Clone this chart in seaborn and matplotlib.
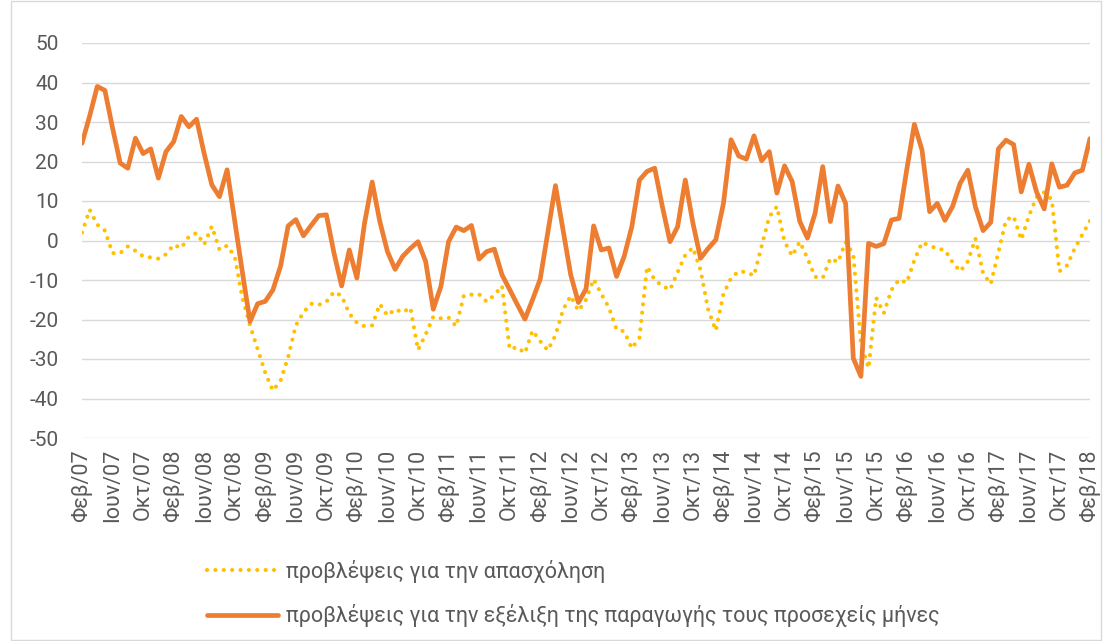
# Business survey expectations: employment vs production, Feb 2007 - Feb 2018

import pandas as pd
import seaborn as sns
import matplotlib.pyplot as plt

# monthly balances, Φεβ/07 ... Φεβ/18 (133 months)
employment = [2.0, 7.8, 4.0, 2.5, -3.2, -3.2, -1.5, -2.6, -4.0, -4.3,
              -4.6, -3.5, -1.1, -1.9, 1.0, 1.9, -1.0, 3.6, -2.3, -1.3,
              -4.0, -14.5, -21.5, -27.5, -33.5, -38.0, -35.5, -29.5, -21.5, -18.2,
              -16.0, -16.3, -15.5, -13.0, -14.0, -18.5, -20.8, -21.7, -21.5, -16.1,
              -19.0, -17.4, -18.2, -17.0, -27.7, -23.8, -19.3, -19.7, -19.5, -21.7,
              -14.0, -13.7, -13.6, -15.5, -13.8, -11.5, -27.5, -27.0, -28.5, -22.8,
              -25.5, -27.8, -24.0, -17.5, -14.0, -17.8, -15.0, -9.8, -13.5, -17.0,
              -22.5, -23.0, -27.3, -24.6, -6.6, -10.0, -11.5, -12.5, -8.0, -3.7,
              -1.8, -7.5, -17.5, -22.8, -13.5, -9.5, -7.8, -8.0, -8.9, -1.5,
              6.0, 8.6, -0.3, -3.9, -0.3, -4.5, -9.2, -9.5, -4.5, -5.5,
              -0.4, -3.5, -26.0, -32.3, -14.5, -18.4, -12.5, -9.9, -10.7, -5.0,
              -0.5, -1.3, -2.1, -2.4, -5.5, -7.8, -5.3, 0.5, -8.3, -11.0,
              -3.0, 5.2, 6.1, 0.2, 6.2, 11.0, 12.2, 10.3, -7.8, -6.3,
              -2.0, 1.5, 5.0]

production = [24.6, 31.5, 39.0, 38.0, 28.5, 19.6, 18.3, 25.9, 22.0, 23.2,
              15.8, 22.5, 25.0, 31.4, 28.8, 30.7, 22.0, 14.1, 11.1, 17.9,
              5.0, -8.0, -20.5, -16.0, -15.4, -12.5, -6.5, 3.7, 5.3, 1.2,
              3.8, 6.3, 6.5, -3.2, -11.5, -2.4, -9.5, 4.4, 14.8, 4.8,
              -2.8, -7.3, -4.0, -2.0, -0.3, -5.3, -17.4, -11.6, -0.3, 3.4,
              2.5, 3.8, -4.7, -2.8, -2.2, -8.7, -12.4, -16.2, -19.9, -15.0,
              -9.8, 2.0, 13.9, 2.6, -8.7, -15.7, -12.3, 3.7, -2.4, -1.9,
              -9.1, -4.0, 3.5, 15.3, 17.5, 18.3, 8.6, -0.3, 3.5, 15.3,
              4.4, -4.5, -2.0, 0.2, 9.4, 25.5, 21.4, 20.6, 26.5, 20.2,
              22.5, 12.0, 18.9, 14.9, 4.8, 0.6, 6.9, 18.7, 4.8, 13.8,
              9.4, -29.8, -34.4, -0.7, -1.5, -0.8, 5.2, 5.6, 17.9, 29.4,
              22.9, 7.3, 9.4, 5.1, 8.6, 14.5, 17.8, 8.5, 2.5, 4.6,
              23.2, 25.4, 24.3, 12.3, 19.3, 12.3, 8.0, 19.4, 13.5, 14.0,
              17.1, 17.8, 25.8]

# one label every 4 months
tick_labels = ['Φεβ/07', 'Ιουν/07', 'Οκτ/07', 'Φεβ/08', 'Ιουν/08', 'Οκτ/08',
               'Φεβ/09', 'Ιουν/09', 'Οκτ/09', 'Φεβ/10', 'Ιουν/10', 'Οκτ/10',
               'Φεβ/11', 'Ιουν/11', 'Οκτ/11', 'Φεβ/12', 'Ιουν/12', 'Οκτ/12',
               'Φεβ/13', 'Ιουν/13', 'Οκτ/13', 'Φεβ/14', 'Ιουν/14', 'Οκτ/14',
               'Φεβ/15', 'Ιουν/15', 'Οκτ/15', 'Φεβ/16', 'Ιουν/16', 'Οκτ/16',
               'Φεβ/17', 'Ιουν/17', 'Οκτ/17', 'Φεβ/18']

label_emp = 'προβλέψεις για την απασχόληση'
label_prod = 'προβλέψεις για την εξέλιξη της παραγωγής τους προσεχείς μήνες'

df = pd.DataFrame({'month': range(len(production)),
                   'employment': employment,
                   'production': production})

sns.set_style("white")
plt.rcParams['font.family'] = ['Roboto', 'DejaVu Sans']
plt.rcParams['axes.unicode_minus'] = False
grey = '#595959'

fig = plt.figure(figsize=(11.04, 6.41), dpi=100)
ax = fig.add_axes([82 / 1104, 1 - 438 / 641, (1090 - 82) / 1104, (438 - 43) / 641])

sns.lineplot(data=df, x='month', y='employment', ax=ax, color='#FFC000',
             lw=3.0, linestyle=(0, (0.01, 2.0)), dash_capstyle='round',
             label=label_emp)
sns.lineplot(data=df, x='month', y='production', ax=ax, color='#ED7D31',
             lw=3.4, solid_capstyle='round', solid_joinstyle='round',
             label=label_prod)

ax.set_xlim(0, len(production) - 1)
ax.set_ylim(-50, 50)
ax.set_yticks(range(-50, 51, 10))
ax.set_xticks(range(0, len(production), 4))
ax.set_xticklabels(tick_labels, rotation=90)
ax.tick_params(axis='y', length=0, pad=17, labelsize=15, labelcolor=grey)
ax.tick_params(axis='x', length=0, pad=8, labelsize=15.5, labelcolor=grey)
ax.set_xlabel('')
ax.set_ylabel('')
ax.grid(axis='y', color='#D9D9D9', lw=1)
ax.set_axisbelow(True)
sns.despine(ax=ax, left=True, bottom=True)

leg = ax.legend(loc='upper left', bbox_to_anchor=(196 / 1104, 1 - 549 / 641),
                bbox_transform=fig.transFigure, frameon=False, fontsize=15.5,
                handlelength=3.3, handletextpad=0.4, labelspacing=1.0,
                borderpad=0)
for t in leg.get_texts():
    t.set_color(grey)

# light frame round the chart area
fig.add_artist(plt.Rectangle((11 / 1104, 1 / 641), 1090 / 1104, 639 / 641,
                             transform=fig.transFigure, fill=False,
                             edgecolor='#D9D9D9', lw=1))

fig.savefig('out.png', dpi=100)
